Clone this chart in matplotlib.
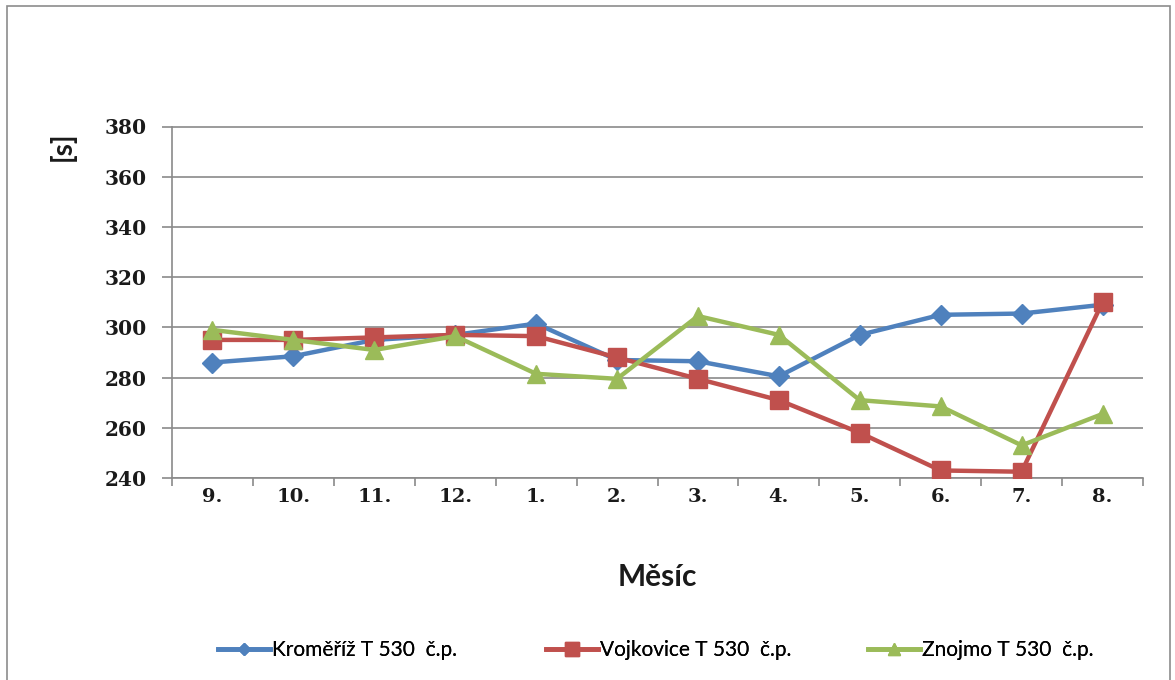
import matplotlib
matplotlib.use("Agg")
import matplotlib.pyplot as plt
from matplotlib.lines import Line2D
from matplotlib.patches import Rectangle

# Monthly values [s]
months = ["9.", "10.", "11.", "12.", "1.", "2.", "3.", "4.", "5.", "6.", "7.", "8."]
kromeriz = [286, 288.5, 295, 297, 301.5, 287, 286.5, 280.5, 297, 305, 305.5, 309]
vojkovice = [295, 295, 296, 297, 296.5, 288, 279.5, 271, 258, 243, 242.5, 310]
znojmo = [299, 295, 291, 296.5, 281.5, 279.5, 304.5, 297, 271, 268.5, 253, 265.5]

series_names = ["Kroměříž T 530  č.p.", "Vojkovice T 530  č.p.", "Znojmo T 530  č.p."]
y_ticks = [240, 260, 280, 300, 320, 340, 360, 380]

W, H = 1175, 680
fig = plt.figure(figsize=(W / 100, H / 100), dpi=100)
fig.patch.set_facecolor("white")

# outer chart frame
fig.add_artist(Rectangle((7 / W, -0.01), (1170 - 7) / W, 1 - 6 / H + 0.01,
                         transform=fig.transFigure, fill=False,
                         edgecolor="#8c8c8c", linewidth=1.2))

ax = fig.add_axes([172 / W, 1 - 478 / H, (1143 - 172) / W, (478 - 126.5) / H])

colors = ["#4F81BD", "#C0504D", "#9BBB59"]
markers = ["D", "s", "^"]
msizes = [10, 13, 13]
legend_msizes = [6.5, 9.5, 8.5]
x = list(range(len(months)))
for vals, c, m, ms in zip([kromeriz, vojkovice, znojmo], colors, markers, msizes):
    ax.plot(x, vals, color=c, linewidth=3.2, marker=m, markersize=ms,
            markerfacecolor=c, markeredgecolor=c, zorder=3)

ax.set_xlim(-0.5, len(months) - 0.5)
ax.set_ylim(240, 380)
ax.set_yticks(y_ticks)
ax.yaxis.grid(True, color="#8a8a8a", linewidth=1.2)
ax.set_axisbelow(True)

for s in ["top", "right"]:
    ax.spines[s].set_visible(False)
for s in ["left", "bottom"]:
    ax.spines[s].set_color("#8a8a8a")
    ax.spines[s].set_linewidth(1.2)

ax.set_xticks(x)
ax.set_xticklabels(months)
ax.set_xticks([i - 0.5 for i in range(len(months) + 1)], minor=True)
ax.tick_params(axis="x", which="major", length=0, pad=7)
ax.tick_params(axis="x", which="minor", length=6, color="#8a8a8a", width=1.2, direction="out")
ax.tick_params(axis="y", length=7.2, color="#8a8a8a", width=1.2, pad=11)

for lab in ax.get_xticklabels():
    lab.set_fontfamily("DejaVu Serif")
    lab.set_fontweight("bold")
    lab.set_fontsize(14)
    lab.set_color("#1a1a1a")
for lab in ax.get_yticklabels():
    lab.set_fontfamily("DejaVu Serif")
    lab.set_fontweight("bold")
    lab.set_fontsize(14.5)
    lab.set_color("#1a1a1a")

fig.text(657 / W, 1 - 577 / H, "Měsíc", ha="center", va="center",
         fontfamily="Lato", fontweight="bold", fontsize=21.5, color="#1a1a1a")
fig.text(62 / W, 1 - 146 / H, "[s]", ha="center", va="center", rotation=90,
         fontfamily="Lato", fontweight="bold", fontsize=20, color="#1a1a1a")

# one legend entry per series, each placed at its own left edge
legend_left = [218, 546, 868]
for name, c, m, ms, lx in zip(series_names, colors, markers, legend_msizes, legend_left):
    h = Line2D([0], [0], color=c, linewidth=3.4, marker=m, markersize=ms,
               markerfacecolor=c, markeredgecolor=c)
    leg = fig.legend([h], [name], loc="center left", bbox_to_anchor=(lx / W, 1 - 650 / H),
                     frameon=False, prop={"family": "Lato", "size": 15},
                     handlelength=2.5, handletextpad=0.1, borderpad=0, borderaxespad=0)
    fig.add_artist(leg)

fig.savefig("out.png", dpi=100)
